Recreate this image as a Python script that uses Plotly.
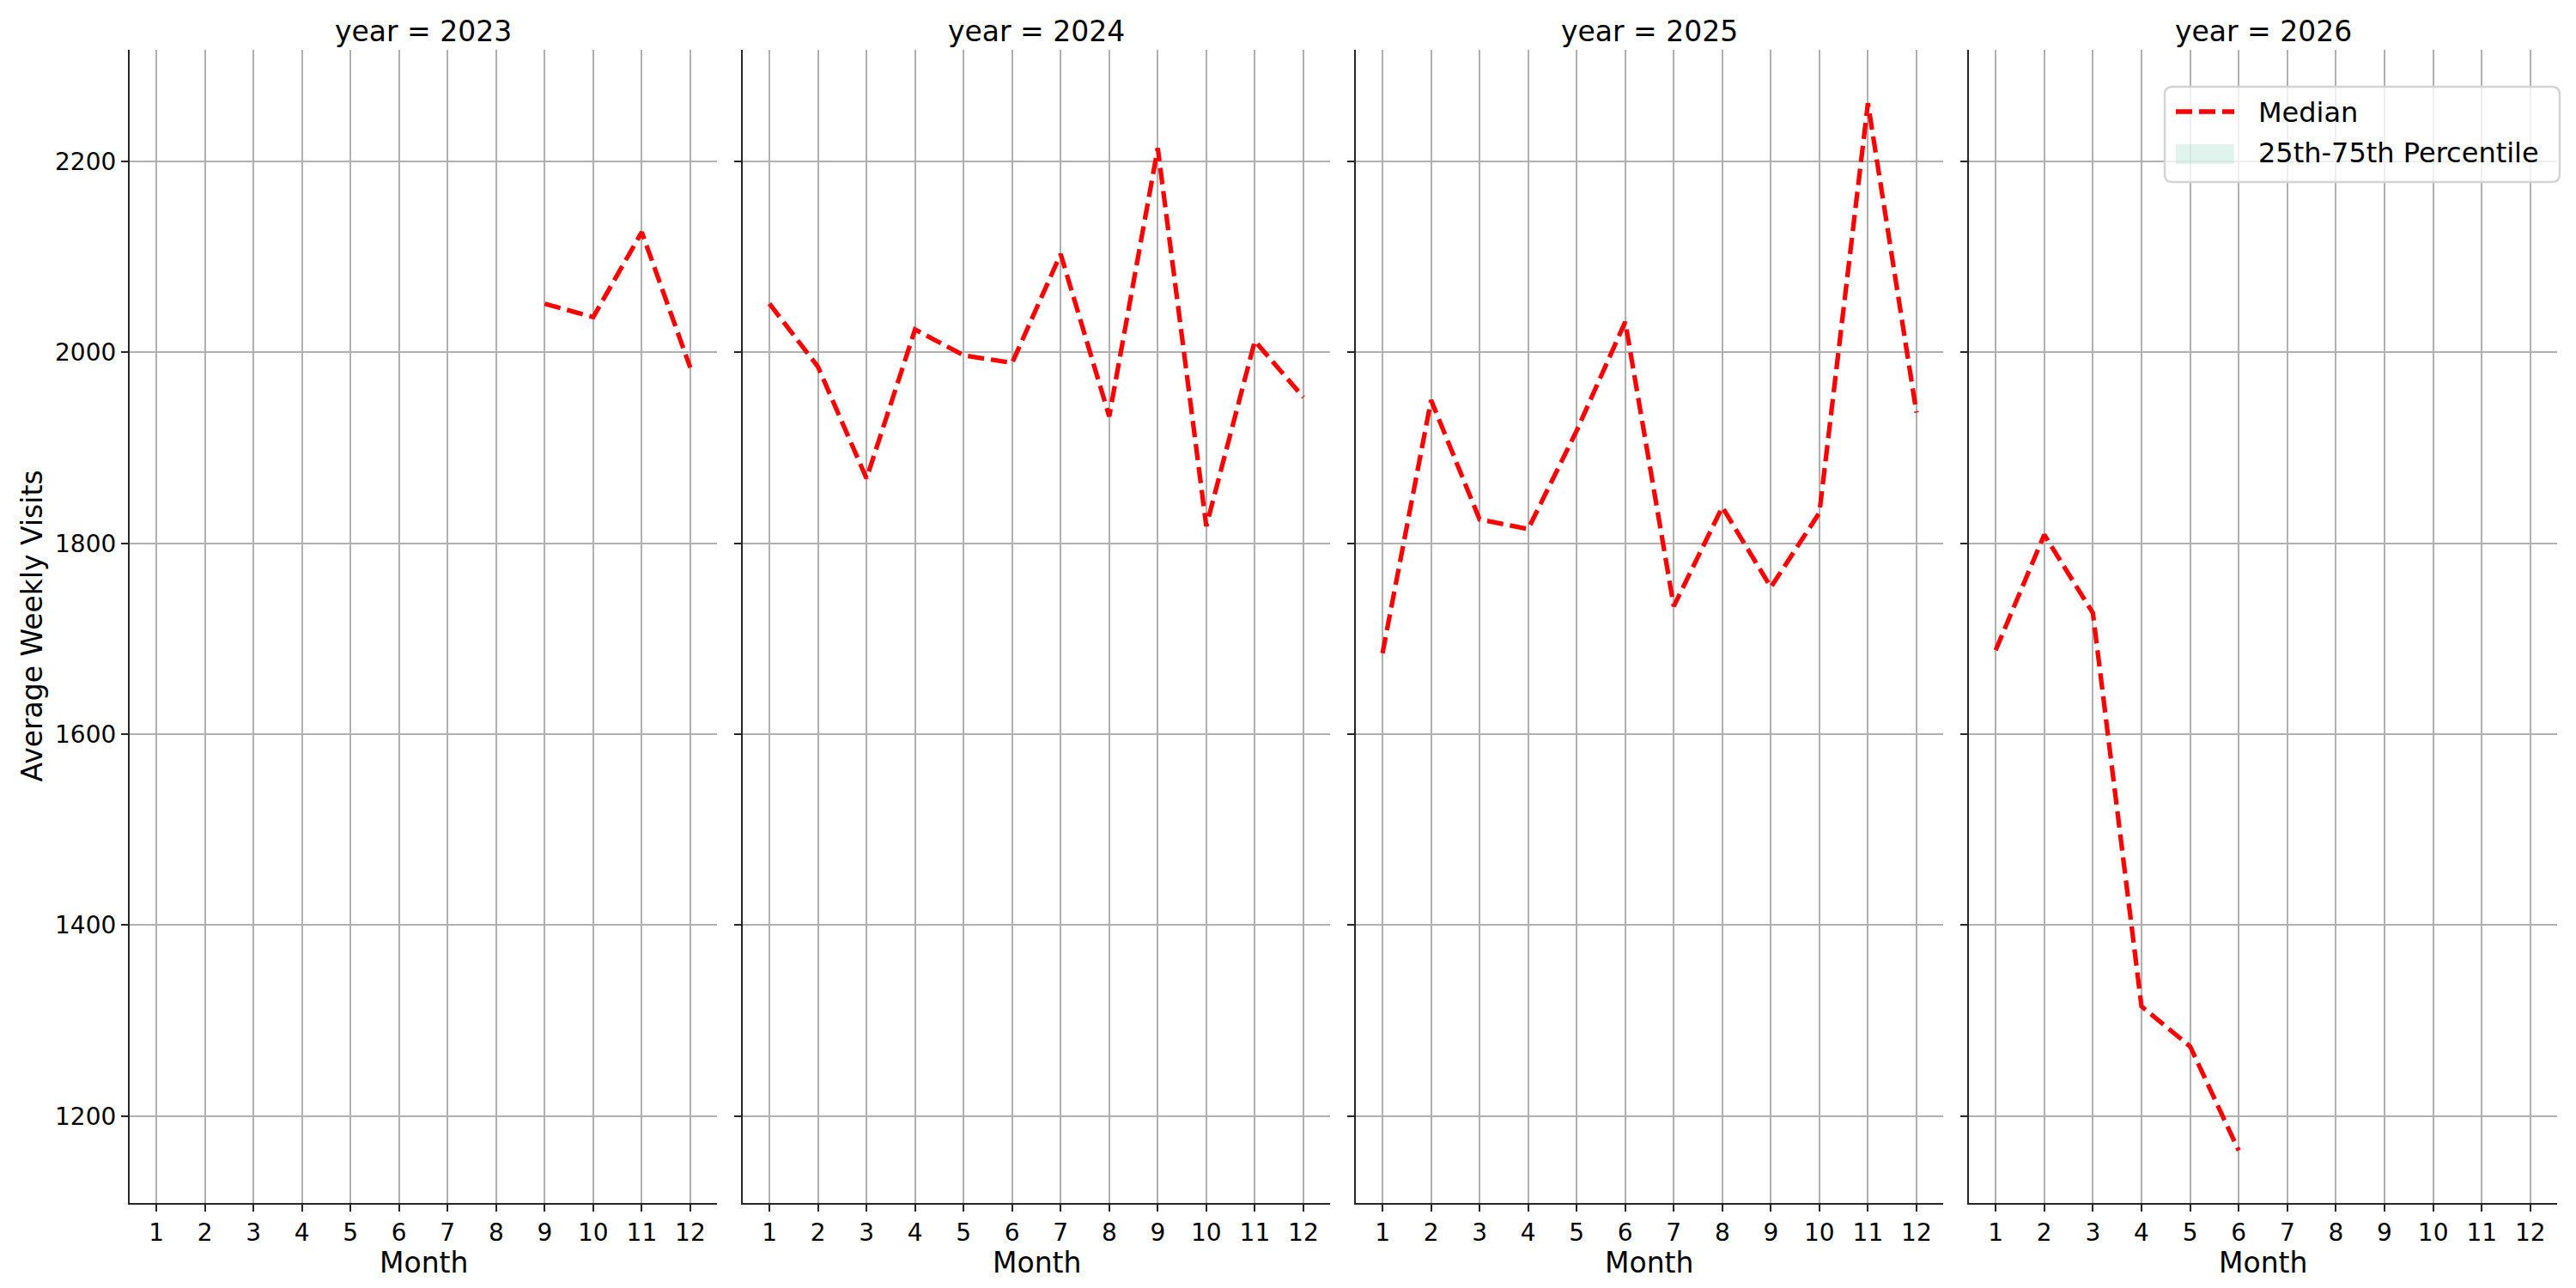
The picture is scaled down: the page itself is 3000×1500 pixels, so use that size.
import plotly.graph_objects as go

years = [2023, 2024, 2025, 2026]
months_2023 = [9, 10, 11, 12]
median_2023 = [2051, 2037, 2126, 1984]
months_2024 = [1, 2, 3, 4, 5, 6, 7, 8, 9, 10, 11, 12]
median_2024 = [2051, 1985, 1868, 2024, 1997, 1989, 2103, 1933, 2214, 1818, 2012, 1953]
months_2025 = [1, 2, 3, 4, 5, 6, 7, 8, 9, 10, 11, 12]
median_2025 = [1685, 1950, 1825, 1815, 1918, 2032, 1734, 1838, 1754, 1832, 2261, 1937]
months_2026 = [1, 2, 3, 4, 5, 6]
median_2026 = [1688, 1809, 1727, 1315, 1273, 1164]

month_ticks = list(range(1, 13))
y_ticks = [1200, 1400, 1600, 1800, 2000, 2200]
legend_labels = ["Median", "25th-75th Percentile"]

series = {
    2023: (months_2023, median_2023),
    2024: (months_2024, median_2024),
    2025: (months_2025, median_2025),
    2026: (months_2026, median_2026),
}

FONT = "DejaVu Sans"
RED = "red"
BAND = "rgba(102,194,165,0.2)"
L, R, T, B = 151, 2978, 58, 1401
PW, PH = R - L, B - T


def px(xp):
    return (xp - L) / PW


def py(yp):
    return (B - yp) / PH


domains = [[0.0, px(835)], [px(865), px(1549)], [px(1579), px(2263)], [px(2293), 1.0]]

fig = go.Figure()
layout = dict(
    width=3000, height=1500,
    margin=dict(l=L, r=3000 - R, t=T, b=1500 - B),
    plot_bgcolor="white", paper_bgcolor="white",
    font=dict(family=FONT, color="black", size=28),
    showlegend=False,
)
annotations = []
shapes = []
for i, yr in enumerate(years):
    xs, ys = series[yr]
    ax = "" if i == 0 else str(i + 1)
    fig.add_trace(go.Scatter(
        x=xs, y=ys, mode="lines", name="Median",
        line=dict(color=RED, width=5.3, dash="19px,8px"),
        xaxis="x" + ax, yaxis="y" + ax,
    ))
    layout["xaxis" + ax] = dict(
        domain=domains[i], range=[0.45, 12.55], anchor="y" + ax,
        tickmode="array", tickvals=month_ticks, ticktext=[str(m) for m in month_ticks],
        showgrid=True, gridcolor="#b0b0b0", gridwidth=1.6,
        showline=True, linecolor="#262626", linewidth=2.2,
        ticks="outside", ticklen=8, tickwidth=2, tickcolor="#262626",
        zeroline=False, tickfont=dict(size=28, family=FONT),
    )
    layout["yaxis" + ax] = dict(
        range=[1109, 2317], anchor="x" + ax,
        tickmode="array", tickvals=y_ticks, ticktext=[str(v) for v in y_ticks],
        showticklabels=(i == 0),
        showgrid=True, gridcolor="#b0b0b0", gridwidth=1.6,
        showline=True, linecolor="#262626", linewidth=2.2,
        ticks="outside", ticklen=8, tickwidth=2, tickcolor="#262626",
        zeroline=False, tickfont=dict(size=28, family=FONT),
    )
    if i > 0:
        layout["yaxis" + ax]["matches"] = "y"
    cx = (domains[i][0] + domains[i][1]) / 2
    annotations.append(dict(text=f"year = {yr}", x=cx, y=py(36), xref="paper", yref="paper",
                            xanchor="center", yanchor="middle", showarrow=False,
                            font=dict(size=33, family=FONT)))
    annotations.append(dict(text="Month", x=cx, y=py(1470), xref="paper", yref="paper",
                            xanchor="center", yanchor="middle", showarrow=False,
                            font=dict(size=33, family=FONT)))

annotations.append(dict(text="Average Weekly Visits", x=px(37), y=0.5, xref="paper", yref="paper",
                        xanchor="center", yanchor="middle", textangle=-90, showarrow=False,
                        font=dict(size=33, family=FONT)))

# legend box (drawn in the top-right panel)
x0, x1, yt, yb = px(2521), px(2981), py(101), py(212)
rx, ry = 9 / PW, 9 / PH
path = (f"M {x0+rx},{yt} L {x1-rx},{yt} Q {x1},{yt} {x1},{yt-ry} L {x1},{yb+ry} "
        f"Q {x1},{yb} {x1-rx},{yb} L {x0+rx},{yb} Q {x0},{yb} {x0},{yb+ry} "
        f"L {x0},{yt-ry} Q {x0},{yt} {x0+rx},{yt} Z")
shapes.append(dict(type="path", path=path, xref="paper", yref="paper",
                   fillcolor="rgba(255,255,255,0.8)", line=dict(color="#d3d3d3", width=2.5)))
shapes.append(dict(type="line", xref="paper", yref="paper", x0=px(2534), x1=px(2602),
                   y0=py(130), y1=py(130), line=dict(color=RED, width=5.3, dash="19px,8px")))
shapes.append(dict(type="rect", xref="paper", yref="paper", x0=px(2534), x1=px(2602),
                   y0=py(191), y1=py(168), fillcolor=BAND, line=dict(width=0)))
for lab, yc in zip(legend_labels, [131, 178]):
    annotations.append(dict(text=lab, x=px(2628), y=py(yc), xref="paper", yref="paper",
                            xanchor="left", yanchor="middle", showarrow=False,
                            font=dict(size=32, family=FONT)))

layout["annotations"] = annotations
layout["shapes"] = shapes
fig.update_layout(**layout)
fig.write_html("out.html")
